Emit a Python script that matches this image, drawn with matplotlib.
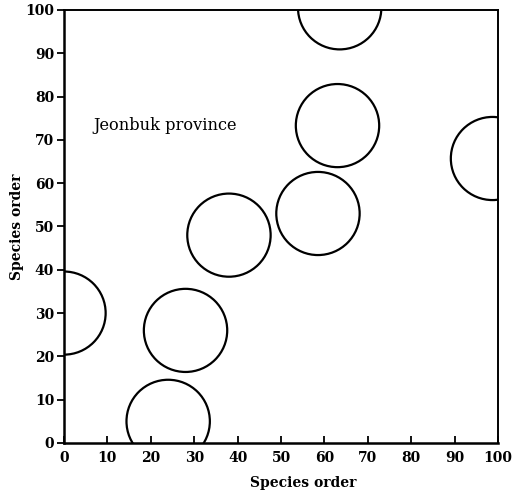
import matplotlib
matplotlib.use("Agg")
import matplotlib.pyplot as plt
from matplotlib.patches import Circle

# Data: circle centres (species order x, species order y) and radius
centers_x = [0, 28, 24, 38, 58.5, 63, 63.5, 98.7]
centers_y = [30, 26, 5, 48, 53, 73.3, 100.5, 65.7]
radius = 9.6
ticks = [0, 10, 20, 30, 40, 50, 60, 70, 80, 90, 100]
label_text = "Jeonbuk province"
axis_label = "Species order"

plt.rcParams['font.family'] = ['DejaVu Serif']

fig = plt.figure(figsize=(5.2, 4.97), dpi=100)
ax = fig.add_axes([0.123, 0.1087, 0.835, 0.8712])

for cx, cy in zip(centers_x, centers_y):
    c = Circle((cx, cy), radius, fill=False, edgecolor='black', lw=1.6, clip_on=True)
    ax.add_patch(c)

ax.set_xlim(0, 100)
ax.set_ylim(0, 100)
ax.set_xticks(ticks)
ax.set_yticks(ticks)
ax.set_xticklabels([str(t) for t in ticks], fontsize=10, fontweight='bold')
ax.set_yticklabels([str(t) for t in ticks], fontsize=10, fontweight='bold')
ax.tick_params(axis='x', direction='in', length=5, width=1.3, pad=6)
ax.tick_params(axis='y', direction='out', length=5, width=1.3, pad=2)

for side in ['left', 'bottom']:
    ax.spines[side].set_linewidth(1.8)
for side in ['top', 'right']:
    ax.spines[side].set_linewidth(1.4)

ax.text(6.7, 73.4, label_text, fontsize=11.7, va='center', ha='left')

ax.set_xlabel(axis_label, fontsize=10, fontweight='bold')
ax.xaxis.set_label_coords(0.55, -0.077)
ax.set_ylabel(axis_label, fontsize=10, fontweight='bold')
ax.yaxis.set_label_coords(-0.092, 0.5)

fig.savefig("out.png", dpi=100)
